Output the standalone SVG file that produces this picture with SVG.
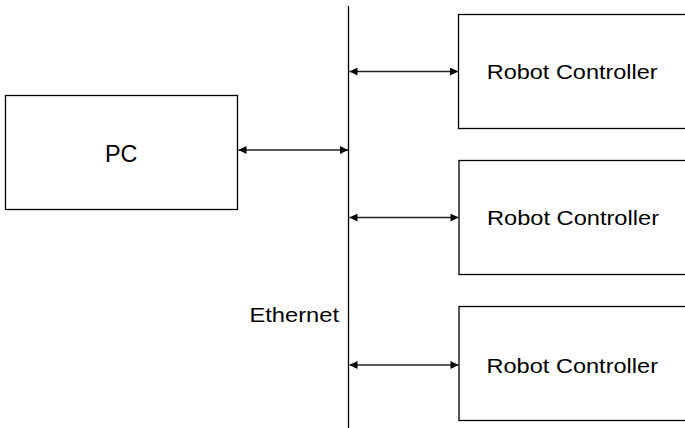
<svg xmlns="http://www.w3.org/2000/svg" width="685" height="428" viewBox="0 0 685 428">
<style>
.box{fill:#fff;stroke:#000;stroke-width:1.3}
.lbl{font-family:"Liberation Sans",Arial,sans-serif;fill:#000}
.conn{stroke:#222;stroke-width:1.3;fill:none;marker-start:url(#ah);marker-end:url(#ah)}
</style>
<defs>
<marker id="ah" viewBox="0 0 10 10" refX="10" refY="5" markerWidth="10" markerHeight="8" markerUnits="userSpaceOnUse" orient="auto-start-reverse">
<path d="M0,0 L10,5 L0,10 z" fill="#000"/>
</marker>
</defs>
<rect width="685" height="428" fill="#fff"/>
<g id="pc">
<rect class="box" x="5.5" y="95.5" width="232" height="114"/>
<text class="lbl" x="105" y="161.5" font-size="23" textLength="32.5" lengthAdjust="spacingAndGlyphs">PC</text>
</g>
<g id="ethernet">
<line x1="348.5" y1="6" x2="348.5" y2="428" stroke="#000" stroke-width="1.3"/>
<text class="lbl" x="249.5" y="322.3" font-size="20" textLength="89.5" lengthAdjust="spacingAndGlyphs">Ethernet</text>
</g>
<g id="rc1">
<rect class="box" x="458.5" y="14.5" width="240" height="114"/>
<text class="lbl" x="486.7" y="78.7" font-size="21" textLength="171" lengthAdjust="spacingAndGlyphs">Robot Controller</text>
</g>
<g id="rc2">
<rect class="box" x="459" y="160.5" width="240" height="114"/>
<text class="lbl" x="487" y="225" font-size="21" textLength="172" lengthAdjust="spacingAndGlyphs">Robot Controller</text>
</g>
<g id="rc3">
<rect class="box" x="459" y="306.5" width="240" height="114"/>
<text class="lbl" x="486.5" y="372.7" font-size="21" textLength="171.5" lengthAdjust="spacingAndGlyphs">Robot Controller</text>
</g>
<g id="connectors">
<line class="conn" x1="238.5" y1="150" x2="348" y2="150"/>
<line class="conn" x1="349.5" y1="71.5" x2="458" y2="71.5"/>
<line class="conn" x1="349.5" y1="217.5" x2="458.5" y2="217.5"/>
<line class="conn" x1="349.5" y1="365" x2="458.5" y2="365"/>
</g>
</svg>
